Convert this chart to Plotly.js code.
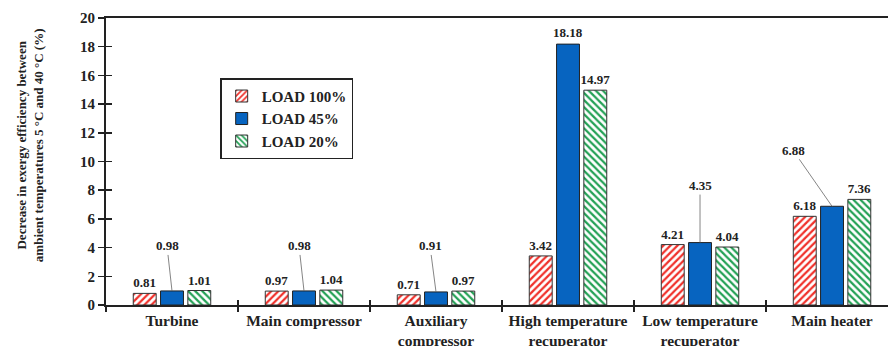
<!DOCTYPE html>
<html>
<head>
<meta charset="utf-8">
<script src="https://cdn.plot.ly/plotly-3.0.1.min.js"></script>
<style>html,body{margin:0;padding:0;background:#fff;}#chart{width:888px;height:346px;}</style>
</head>
<body>
<div id="chart"></div>
<script>
const categories = ["Turbine", "Main compressor", "Auxiliary<br>compressor", "High temperature<br>recuperator", "Low temperature<br>recuperator", "Main heater"];
const seriesNames = ["LOAD 100%", "LOAD 45%", "LOAD 20%"];
const load100 = [0.81, 0.97, 0.71, 3.42, 4.21, 6.18];
const load45 = [0.98, 0.98, 0.91, 18.18, 4.35, 6.88];
const load20 = [1.01, 1.04, 0.97, 14.97, 4.04, 7.36];
const yTicks = [0, 2, 4, 6, 8, 10, 12, 14, 16, 18, 20];

// label offsets (pixels) for the LOAD 45% callouts
const blueDx = [-5, -5, -6, 0, 0, -39];
const blueDy = [-45, -45, -46, 0, -57, -56];

const FONT = "Liberation Serif, Times New Roman, serif";
const fmt = v => v.toFixed(2);
const xRange = [-0.5, 5.424];

const traces = [
  {type: 'bar', name: seriesNames[0], x: categories, y: load100,
   text: load100.map(fmt), textposition: 'outside', constraintext: 'none', cliponaxis: false,
   textfont: {family: FONT, size: 13, color: '#222'},
   marker: {color: '#ffffff', line: {color: '#333', width: 1},
            pattern: {shape: '/', fgcolor: '#f0302a', bgcolor: '#ffffff', size: 5, solidity: 0.45}}},
  {type: 'bar', name: seriesNames[1], x: categories, y: load45,
   marker: {color: '#0764c0', line: {color: '#222', width: 1}}},
  {type: 'bar', name: seriesNames[2], x: categories, y: load20,
   text: load20.map(fmt), textposition: 'outside', constraintext: 'none', cliponaxis: false,
   textfont: {family: FONT, size: 13, color: '#222'},
   marker: {color: '#ffffff', line: {color: '#333', width: 1},
            pattern: {shape: '\\', fgcolor: '#23a155', bgcolor: '#ffffff', size: 5, solidity: 0.45}}},
  {type: 'scatter', x: [], y: [], xaxis: 'x2', yaxis: 'y2', showlegend: false, hoverinfo: 'skip'}
];

const annotations = load45.map((v, i) => {
  const a = {x: categories[i], y: v, xref: 'x', yref: 'y', text: fmt(v),
    font: {family: FONT, size: 13, color: '#222'}};
  if (blueDy[i] === 0) {
    a.showarrow = false; a.yanchor = 'bottom'; a.yshift = 2;
  } else {
    a.showarrow = true; a.arrowhead = 0; a.arrowwidth = 0.8; a.arrowcolor = '#666';
    a.ax = blueDx[i]; a.ay = blueDy[i]; a.standoff = 0;
  }
  return a;
});
annotations.push({
  xref: 'paper', yref: 'paper', x: 0, y: 0.557, xshift: -76, xanchor: 'center', yanchor: 'middle',
  textangle: -90, showarrow: false,
  text: 'Decrease in exergy efficiency between<br>ambient temperatures 5 °C and 40 °C (%)',
  font: {family: FONT, size: 13, color: '#222'}
});

const layout = {
  width: 888, height: 346,
  margin: {l: 106, r: 0, t: 18, b: 41, pad: 0},
  paper_bgcolor: '#fff', plot_bgcolor: '#fff',
  font: {family: FONT, color: '#222', weight: 'bold'},
  barmode: 'group', bargap: 0.38, bargroupgap: 0.16,
  showlegend: true,
  legend: {x: 0.146, y: 0.79, xanchor: 'left', yanchor: 'top',
    bgcolor: '#fff', bordercolor: '#222', borderwidth: 1.5,
    font: {family: FONT, size: 15, color: '#222', weight: 'bold'}, itemwidth: 30},
  xaxis: {type: 'category', range: xRange, tickson: 'boundaries', ticks: 'outside', ticklen: 5,
    tickcolor: '#222', tickwidth: 1.5, showline: true, linecolor: '#222', linewidth: 2, mirror: true,
    showgrid: false, zeroline: false, fixedrange: true,
    tickfont: {family: FONT, size: 15.5, color: '#222', weight: 'bold'}},
  yaxis: {range: [0, 20], tickvals: yTicks, ticks: 'outside', ticklen: 6, tickcolor: '#222', tickwidth: 1.5,
    showline: true, linecolor: '#222', linewidth: 2, showgrid: false, zeroline: false,
    tickfont: {family: FONT, size: 15, color: '#222', weight: 'bold'}},
  xaxis2: {overlaying: 'x', anchor: 'y2', range: xRange, tick0: -0.5, dtick: 1, ticks: 'inside', ticklen: 5,
    tickcolor: '#222', tickwidth: 1.5, showticklabels: false, showgrid: false, zeroline: false, showline: false},
  yaxis2: {overlaying: 'y', anchor: 'x2', side: 'left', range: [0, 20], tickvals: yTicks, ticks: 'inside',
    ticklen: 6, tickcolor: '#222', tickwidth: 1.5, showticklabels: false, showgrid: false, zeroline: false, showline: false},
  annotations: annotations
};

Plotly.newPlot('chart', traces, layout, {staticPlot: true, displayModeBar: false});
</script>
</body>
</html>
